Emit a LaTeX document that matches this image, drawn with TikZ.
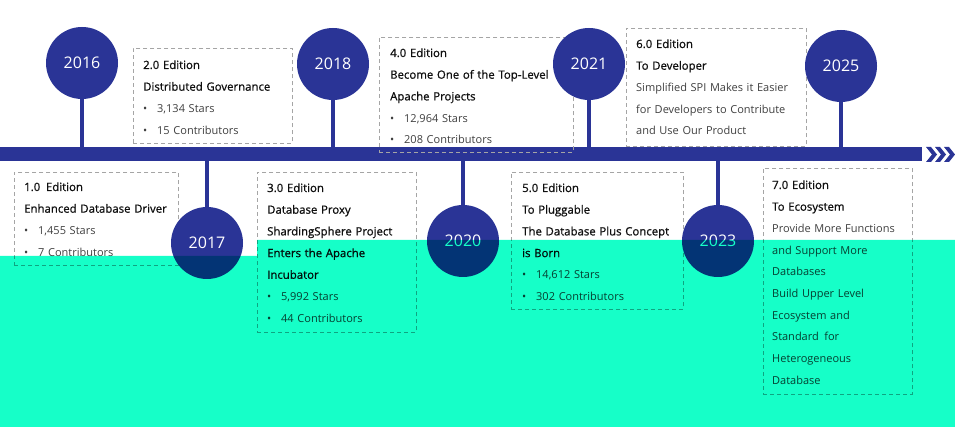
\documentclass[tikz,border=0pt]{standalone}
\usepackage{fontspec}
\setmainfont{Open Sans}
\newfontfamily\titlefont[FakeBold=0.8]{Open Sans}
\definecolor{tlblue}{RGB}{42,52,150}
\definecolor{mint}{RGB}{22,255,200}
\definecolor{boxgray}{RGB}{165,165,165}
\definecolor{ttlcol}{RGB}{15,15,15}
\definecolor{bodycol}{RGB}{64,64,64}
\newcommand\ttl[1]{{\titlefont\fontsize{11.4}{21.7}\selectfont\color{ttlcol}#1}}
\newcommand\bul{\makebox[14pt][l]{\textbullet}}
\tikzset{
  yearnode/.style={circle, fill=tlblue, minimum size=72pt, inner sep=0pt, text=white, font=\fontsize{16}{19}\selectfont},
  stemline/.style={draw=tlblue, line width=4pt},
  edbox/.style={draw=boxgray, line width=0.9pt, dash pattern=on 4pt off 3pt, anchor=north west, inner sep=0pt},
  edtext/.style={anchor=base west, inner sep=0pt, text width=210pt, align=left, text=bodycol, font=\fontsize{11}{21.7}\selectfont},
  barnode/.style={rectangle, fill=tlblue, anchor=north west, inner sep=0pt, minimum width=922pt, minimum height=14pt},
  chev/.style={fill=tlblue}
}
\begin{document}
\begin{tikzpicture}[x=1pt,y=-1pt]
\useasboundingbox (0,0) rectangle (955,427);
\fill[white] (0,0) rectangle (955,427);
% timeline bar
\node[barnode] (bar) at (0,147) {};
% boxes
\node[edbox, minimum width=164pt, minimum height=93pt] (box1) at (14,172) {};
\node[edbox, minimum width=159pt, minimum height=95pt] (box2) at (133,48) {};
\node[edbox, minimum width=159pt, minimum height=160pt] (box3) at (257,172) {};
\node[edbox, minimum width=194pt, minimum height=115pt] (box4) at (379,37) {};
\node[edbox, minimum width=172pt, minimum height=137pt] (box5) at (511,172) {};
\node[edbox, minimum width=180pt, minimum height=118pt] (box6) at (626,28) {};
\node[edbox, minimum width=149pt, minimum height=226pt] (box7) at (763,168) {};
% texts
\node[edtext] (t1) at (24,191) {\ttl{1.0\enspace Edition}\\ \ttl{Enhanced Database Driver}\\ \bul 1,455 Stars\\ \bul 7 Contributors};
\node[edtext] (t2) at (143,69) {\ttl{2.0 Edition}\\ \ttl{Distributed Governance}\\ \bul 3,134 Stars\\ \bul 15 Contributors};
\node[edtext] (t3) at (267,192) {\ttl{3.0 Edition}\\ \ttl{Database Proxy}\\ \ttl{ShardingSphere Project}\\ \ttl{Enters the Apache}\\ \ttl{Incubator}\\ \bul 5,992 Stars\\ \bul 44 Contributors};
\node[edtext] (t4) at (390,57) {\ttl{4.0 Edition}\\ \ttl{Become One of the Top-Level}\\ \ttl{Apache Projects}\\ \bul 12,964 Stars\\ \bul 208 Contributors};
\node[edtext] (t5) at (522,192) {\ttl{5.0 Edition}\\ \ttl{To Pluggable}\\ \ttl{The Database Plus Concept}\\ \ttl{is Born}\\ \bul 14,612 Stars\\ \bul 302 Contributors};
\node[edtext] (t6) at (636,48) {\ttl{6.0 Edition}\\ \ttl{To Developer}\\ Simplified SPI Makes it Easier\\ for Developers to Contribute\\ and Use Our Product};
\node[edtext] (t7) at (772,189) {\ttl{7.0 Edition}\\ \ttl{To Ecosystem}\\ Provide More Functions\\ and Support More\\ Databases\\ Build Upper Level\\ Ecosystem and\\ Standard\enspace for\\ Heterogeneous\\ Database};
% circles
\node[yearnode] (y2016) at (82,63) {2016};
\node[yearnode] (y2018) at (333,64) {2018};
\node[yearnode] (y2021) at (589,64) {2021};
\node[yearnode] (y2025) at (841,66) {2025};
\node[yearnode] (y2017) at (207,243) {2017};
\node[yearnode] (y2020) at (463,241) {2020};
\node[yearnode] (y2023) at (718,241) {2023};
% stems
\draw[stemline] (y2016.south) -- (y2016.south |- bar.center);
\draw[stemline] (y2018.south) -- (y2018.south |- bar.center);
\draw[stemline] (y2021.south) -- (y2021.south |- bar.center);
\draw[stemline] (y2025.south) -- (y2025.south |- bar.center);
\draw[stemline] (y2017.north) -- (y2017.north |- bar.center);
\draw[stemline] (y2020.north) -- (y2020.north |- bar.center);
\draw[stemline] (y2023.north) -- (y2023.north |- bar.center);
% chevrons
\foreach \cx in {926,935,944}{
  \fill[chev] (\cx,147) -- (\cx+5,147) -- (\cx+11,154.5) -- (\cx+5,162) -- (\cx,162) -- (\cx+6,154.5) -- cycle;
}
% mint overlay
\begin{scope}[blend mode=multiply]
\fill[mint] (0,256) -- (257,256) -- (257,240) -- (955,240) -- (955,427) -- (0,427) -- cycle;
\end{scope}
\end{tikzpicture}
\end{document}
